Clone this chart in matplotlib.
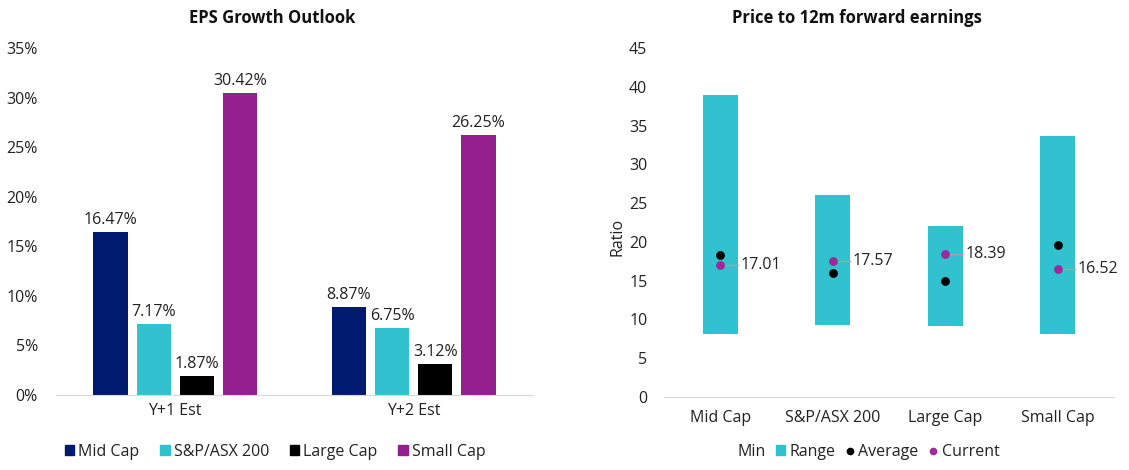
import numpy as np
import matplotlib.pyplot as plt
from matplotlib.patches import Patch
from matplotlib.lines import Line2D

plt.rcParams['font.family'] = ['Open Sans', 'DejaVu Sans']
plt.rcParams['font.size'] = 11.5

# EPS growth data
groups = ['Y+1 Est', 'Y+2 Est']
series = ['Mid Cap', 'S&P/ASX 200', 'Large Cap', 'Small Cap']
eps = {
    'Mid Cap': [16.47, 8.87],
    'S&P/ASX 200': [7.17, 6.75],
    'Large Cap': [1.87, 3.12],
    'Small Cap': [30.42, 26.25],
}
bar_colors = ['#001A70', '#31C1CF', '#000000', '#931E8E']

# price to 12m forward earnings
cats = ['Mid Cap', 'S&P/ASX 200', 'Large Cap', 'Small Cap']
pe_min = [8.1, 9.3, 9.1, 8.1]
pe_max = [39.0, 26.1, 22.0, 33.7]
pe_avg = [18.3, 16.0, 15.0, 19.6]
pe_cur = [17.01, 17.57, 18.39, 16.52]

text_col = '#222222'
fs = 11.5
fig = plt.figure(figsize=(11.29, 4.70), dpi=100)

################################################################################
# left chart
ax1 = fig.add_axes([56/1129, 1-395/470, (533-56)/1129, (395-48)/470])
x = np.arange(len(groups))
w = 0.143
step = 0.181
for i, s in enumerate(series):
    xs = x + (i - 1.5) * step
    vals = np.array(eps[s]) / 100
    ax1.bar(xs, vals, width=w, color=bar_colors[i], label=s)
    for xx, v in zip(xs, vals):
        ax1.annotate('{:.2f}%'.format(v*100), (xx, v), xytext=(0, 3),
                     textcoords='offset points', ha='center', va='bottom',
                     color=text_col, fontsize=fs)
ax1.set_xlim(-0.5, 1.5)
ax1.set_ylim(0, 0.35)
ax1.set_yticks(np.arange(0, 0.36, 0.05))
ax1.set_yticklabels(['{:.0f}%'.format(t*100) for t in np.arange(0, 0.36, 0.05)])
ax1.set_xticks(x)
ax1.set_xticklabels(groups)
ax1.tick_params(length=0, colors=text_col, labelsize=fs)
ax1.tick_params(axis='y', pad=13)
ax1.tick_params(axis='x', pad=6)
for sp in ['top', 'right', 'left']:
    ax1.spines[sp].set_visible(False)
ax1.spines['bottom'].set_color('#D9D9D9')
ax1.legend(handles=[Patch(color=c, label=s) for c, s in zip(bar_colors, series)],
           loc='center', bbox_to_anchor=(275/1129, 1-452/470),
           bbox_transform=fig.transFigure, ncol=4, frameon=False,
           handlelength=0.6, handleheight=0.6, handletextpad=0.25,
           columnspacing=1.3, fontsize=fs, labelcolor=text_col)
fig.text(272/1129, 1-18/470, 'EPS Growth Outlook', ha='center', va='center',
         fontsize=12, fontweight='bold', color='#111111')

################################################################################
# right chart
ax2 = fig.add_axes([664/1129, 1-397/470, (1114-664)/1129, (397-48)/470])
xc = np.arange(len(cats))
rng = np.array(pe_max) - np.array(pe_min)
ax2.bar(xc, pe_min, width=0.31, color='none', label='Min')
ax2.bar(xc, rng, width=0.31, bottom=pe_min, color='#31C1CF', label='Range')
ax2.scatter(xc, pe_avg, s=28, color='black', zorder=3, label='Average')
ax2.scatter(xc, pe_cur, s=28, color='#9B2A9A', zorder=4, label='Current')
for xx, v in zip(xc, pe_cur):
    ax2.plot([xx, xx + 0.155], [v, v], color='#A6A6A6', lw=1, zorder=3)
    ax2.annotate('{:.2f}'.format(v), (xx + 0.18, v), ha='left', va='center',
                 color=text_col, fontsize=fs, annotation_clip=False)
ax2.set_xlim(-0.5, 3.5)
ax2.set_ylim(0, 45)
ax2.set_yticks(np.arange(0, 46, 5))
ax2.set_xticks(xc)
ax2.set_xticklabels(cats)
ax2.tick_params(length=0, colors=text_col, labelsize=fs)
ax2.tick_params(axis='y', pad=12)
ax2.tick_params(axis='x', pad=9)
for sp in ['top', 'right', 'left']:
    ax2.spines[sp].set_visible(False)
ax2.spines['bottom'].set_color('#D9D9D9')
ax2.set_ylabel('Ratio', color=text_col, fontsize=fs)
ax2.yaxis.set_label_coords(-0.085, 0.46)
ax2.legend(handles=[Patch(facecolor='none', edgecolor='none', label='Min'),
                    Patch(color='#31C1CF', label='Range'),
                    Line2D([], [], marker='o', ls='', color='black', markersize=4.5, label='Average'),
                    Line2D([], [], marker='o', ls='', color='#9B2A9A', markersize=4.5, label='Current')],
           loc='center', bbox_to_anchor=(862/1129, 1-452/470),
           bbox_transform=fig.transFigure, ncol=4, frameon=False,
           handlelength=0.6, handleheight=0.6, handletextpad=0.25,
           columnspacing=0.6, fontsize=fs, labelcolor=text_col)
fig.text(857/1129, 1-18/470, 'Price to 12m forward earnings', ha='center', va='center',
         fontsize=12, fontweight='bold', color='#111111')

plt.savefig('out.png', dpi=100)
